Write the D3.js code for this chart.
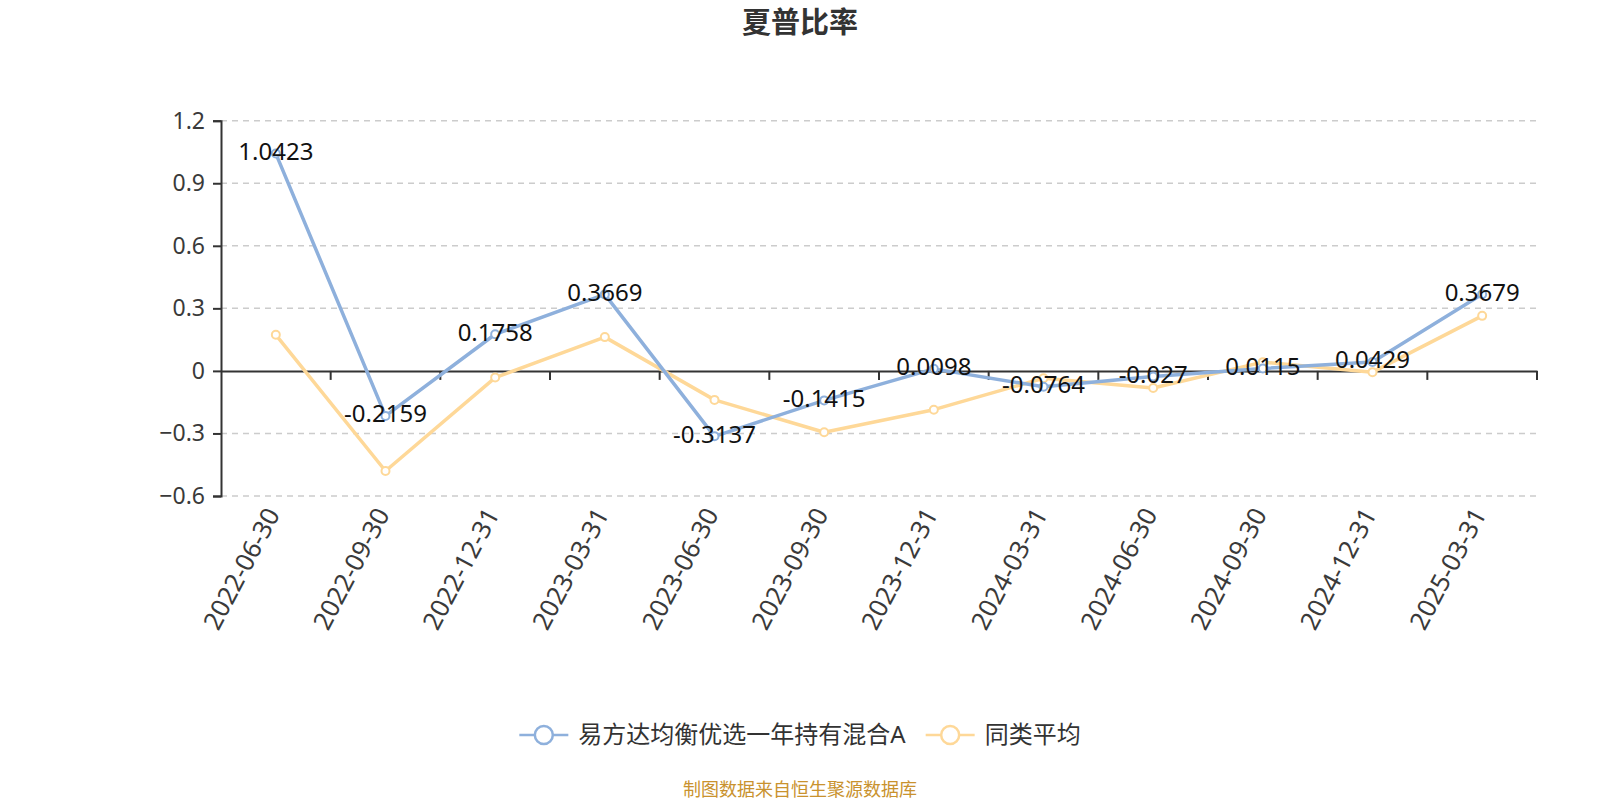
<!DOCTYPE html>
<html>
<head>
<meta charset="utf-8">
<script src="https://cdn.jsdelivr.net/npm/d3@7/dist/d3.min.js"></script>
<style>
  body { margin: 0; background: #fff; }
  text { font-family: "Noto Sans", "Noto Sans CJK SC", sans-serif; }
</style>
</head>
<body>
<div id="chart"></div>
<script>
// data
var dates = ["2022-06-30", "2022-09-30", "2022-12-31", "2023-03-31", "2023-06-30", "2023-09-30",
  "2023-12-31", "2024-03-31", "2024-06-30", "2024-09-30", "2024-12-31", "2025-03-31"];
var fundValues = [1.0423, -0.2159, 0.1758, 0.3669, -0.3137, -0.1415, 0.0098, -0.0764, -0.027, 0.0115, 0.0429, 0.3679];
var avgValues = [0.173, -0.48, -0.032, 0.162, -0.139, -0.294, -0.186, -0.035, -0.082, 0.042, -0.006, 0.264];
var yTicks = [-0.6, -0.3, 0, 0.3, 0.6, 0.9, 1.2];
var seriesNames = ["易方达均衡优选一年持有混合A", "同类平均"];
var colors = ["#8eb0dc", "#fed898"];

var svgWidth = 1600;
var svgHeight = 800;
var margin = { top: 120.7, right: 63, bottom: 304, left: 221 };
var width = svgWidth - margin.left - margin.right;
var height = svgHeight - margin.top - margin.bottom;

var svg = d3.select("#chart")
  .append("svg")
  .attr("width", svgWidth)
  .attr("height", svgHeight);

// title
svg.append("text")
  .attr("x", 800)
  .attr("y", 33)
  .attr("text-anchor", "middle")
  .attr("font-size", "29px")
  .attr("font-weight", "bold")
  .attr("fill", "#333")
  .text("夏普比率");

var chartGroup = svg.append("g")
  .attr("transform", `translate(${margin.left}, ${margin.top})`);

var xScale = d3.scaleBand()
  .domain(dates)
  .range([0, width]);

var yScale = d3.scaleLinear()
  .domain([-0.6, 1.2])
  .range([height, 0]);

// grid lines
chartGroup.selectAll(".grid")
  .data(yTicks.filter(d => d !== 0))
  .enter()
  .append("line")
  .attr("x1", 0)
  .attr("x2", width)
  .attr("y1", d => yScale(d))
  .attr("y2", d => yScale(d))
  .attr("stroke", "#ccc")
  .attr("stroke-width", 1.5)
  .attr("stroke-dasharray", "6,5");

// y axis
var leftAxis = d3.axisLeft(yScale)
  .tickValues(yTicks)
  .tickSize(8)
  .tickPadding(8)
  .tickFormat(d => d3.format("")(+d.toFixed(1)));

var yAxis = chartGroup.append("g").call(leftAxis);
yAxis.select(".domain").attr("stroke", "#333").attr("stroke-width", 2);
yAxis.selectAll(".tick line").attr("stroke", "#333").attr("stroke-width", 2);
yAxis.selectAll(".tick text").attr("font-size", "23px").attr("fill", "#3a3a3a");

// x axis on zero
var bottomAxis = d3.axisBottom(xScale).tickSize(0).tickFormat("");
var xAxis = chartGroup.append("g")
  .attr("transform", `translate(0, ${yScale(0)})`)
  .call(bottomAxis);
xAxis.select(".domain").attr("stroke", "#333").attr("stroke-width", 2);

// ticks between categories
chartGroup.selectAll(".xtick")
  .data(dates)
  .enter()
  .append("line")
  .attr("x1", d => xScale(d) + xScale.bandwidth())
  .attr("x2", d => xScale(d) + xScale.bandwidth())
  .attr("y1", yScale(0))
  .attr("y2", yScale(0) + 9)
  .attr("stroke", "#333")
  .attr("stroke-width", 2);

// x labels at the bottom
chartGroup.selectAll(".xlabel")
  .data(dates)
  .enter()
  .append("text")
  .attr("transform", d => `translate(${xScale(d) + xScale.bandwidth() / 2 - 3}, ${height + 14}) rotate(-62)`)
  .attr("text-anchor", "end")
  .attr("dy", "0.35em")
  .attr("font-size", "25.5px")
  .attr("fill", "#3a3a3a")
  .text(d => d);

var cx = d => xScale(d) + xScale.bandwidth() / 2;

var line = d3.line()
  .x((d, i) => cx(dates[i]))
  .y(d => yScale(d));

var allSeries = [fundValues, avgValues];

// draw avg first then fund on top
[1, 0].forEach(function(s) {
  chartGroup.append("path")
    .datum(allSeries[s])
    .attr("fill", "none")
    .attr("stroke", colors[s])
    .attr("stroke-width", 3.5)
    .attr("stroke-linejoin", "round")
    .attr("d", line);

  chartGroup.selectAll(".pt" + s)
    .data(allSeries[s])
    .enter()
    .append("circle")
    .attr("cx", (d, i) => cx(dates[i]))
    .attr("cy", d => yScale(d))
    .attr("r", 4)
    .attr("fill", "#fff")
    .attr("stroke", colors[s])
    .attr("stroke-width", 2);
});

// value labels for the fund
chartGroup.selectAll(".vlabel")
  .data(fundValues)
  .enter()
  .append("text")
  .attr("x", (d, i) => cx(dates[i]))
  .attr("y", d => yScale(d) - 2)
  .attr("dy", "0.35em")
  .attr("text-anchor", "middle")
  .attr("font-size", "24px")
  .attr("fill", "#111")
  .text(d => d);

// legend
var legend = svg.append("g");
var lx = 0;
seriesNames.forEach(function(name, i) {
  var item = legend.append("g").attr("transform", `translate(${lx}, 0)`);
  item.append("line")
    .attr("x1", 0).attr("x2", 49)
    .attr("y1", 0).attr("y2", 0)
    .attr("stroke", colors[i])
    .attr("stroke-width", 2.5);
  item.append("circle")
    .attr("cx", 24.5).attr("cy", 0).attr("r", 9)
    .attr("fill", "#fff")
    .attr("stroke", colors[i])
    .attr("stroke-width", 2.5);
  var t = item.append("text")
    .attr("x", 59)
    .attr("y", 0)
    .attr("dy", "0.35em")
    .attr("font-size", "24px")
    .attr("fill", "#333")
    .text(name);
  lx += 59 + t.node().getComputedTextLength() + 20;
});
lx -= 20;
legend.attr("transform", `translate(${800 - lx / 2}, 735)`);

// source note
svg.append("text")
  .attr("x", 800)
  .attr("y", 796)
  .attr("text-anchor", "middle")
  .attr("font-size", "18px")
  .attr("fill", "#c9922e")
  .text("制图数据来自恒生聚源数据库");
</script>
</body>
</html>
